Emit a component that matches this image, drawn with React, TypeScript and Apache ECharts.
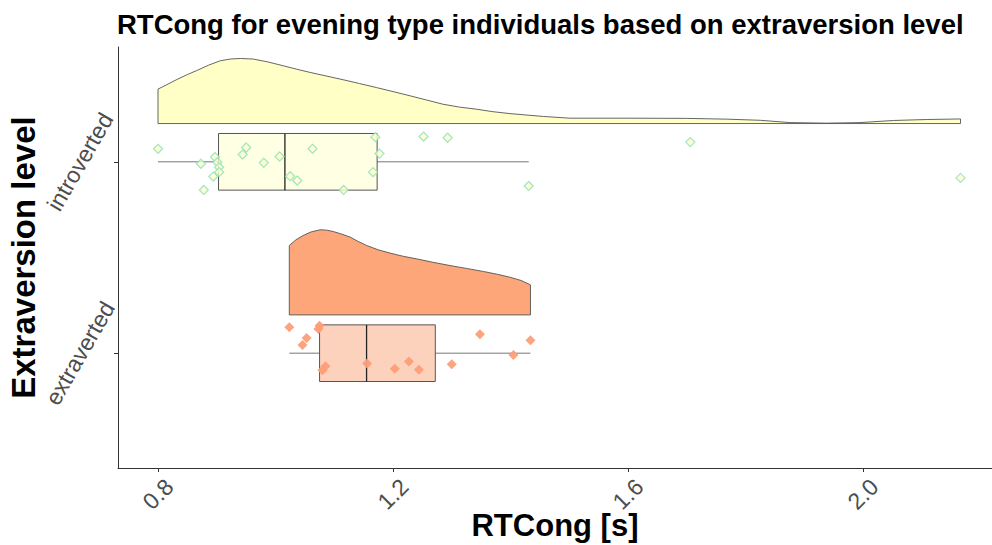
import React, { useEffect, useRef } from "react";
import * as echarts from "echarts";

// ---- data ----
const categories = ["extraverted", "introverted"]; // y positions 1, 2
const groupColors = {
  violin: ["#FCA679", "#FFFFC6"],
  box: ["#FDD2BD", "#FFFFE3"],
};

// half-violin density (x, height in y units)
const extraDensityX = [1.0235, 1.035, 1.047, 1.06, 1.076, 1.087, 1.098, 1.112, 1.127, 1.14, 1.155, 1.175, 1.195, 1.218, 1.24, 1.268, 1.297, 1.325, 1.354, 1.378, 1.399, 1.418, 1.434];
const extraDensityH = [0.363, 0.393, 0.415, 0.433, 0.445, 0.443, 0.436, 0.423, 0.407, 0.385, 0.363, 0.34, 0.323, 0.306, 0.293, 0.275, 0.258, 0.243, 0.227, 0.212, 0.197, 0.18, 0.157];

const introDensityX = [0.8, 0.815, 0.832, 0.85, 0.866, 0.886, 0.906, 0.923, 0.94, 0.962, 0.987, 1.013, 1.036, 1.059, 1.087, 1.115, 1.143, 1.172, 1.2, 1.229, 1.257, 1.285, 1.313, 1.342, 1.37, 1.399, 1.456, 1.501, 1.6, 1.7, 1.768, 1.825, 1.876, 1.938, 1.995, 2.052, 2.108, 2.166];
const introDensityH = [0.18, 0.203, 0.23, 0.256, 0.277, 0.305, 0.328, 0.337, 0.34, 0.337, 0.322, 0.302, 0.284, 0.267, 0.248, 0.229, 0.209, 0.188, 0.167, 0.145, 0.123, 0.101, 0.086, 0.075, 0.062, 0.052, 0.037, 0.028, 0.028, 0.027, 0.023, 0.017, 0.005, 0.002, 0.005, 0.016, 0.021, 0.024];

// boxplot stats: [min, q1, median, q3, max, category]
const boxStats = [
  [1.0235, 1.075, 1.155, 1.272, 1.434, 1],
  [0.8, 0.903, 1.016, 1.173, 1.431, 2],
];

// jittered raw points [x, y]
const extraPoints = [
  [1.0235, 1.135], [1.046, 1.043], [1.053, 1.079], [1.073, 1.126], [1.075, 1.143],
  [1.08, 0.911], [1.085, 0.932], [1.156, 0.946], [1.203, 0.918], [1.227, 0.957],
  [1.244, 0.913], [1.3, 0.942], [1.348, 1.099], [1.405, 0.991], [1.434, 1.068],
];
const introPoints = [
  [0.8, 2.068], [0.873, 1.99], [0.878, 1.853], [0.897, 2.025], [0.901, 1.998],
  [0.904, 1.972], [0.904, 1.946], [0.894, 1.923], [0.944, 2.038], [0.95, 2.075],
  [0.98, 1.995], [1.007, 2.028], [1.025, 1.925], [1.037, 1.902], [1.063, 2.068],
  [1.116, 1.853], [1.166, 1.946], [1.17, 2.129], [1.177, 2.043], [1.252, 2.132],
  [1.293, 2.126], [1.431, 1.874], [1.706, 2.103], [2.166, 1.916],
];

const xTicks = [0.8, 1.2, 1.6, 2.0];
const xTickLabels = ["0.8", "1.2", "1.6", "2.0"];
const violinOffset = 0.2;
const boxHalf = 0.148;

export default function App() {
  const ref = useRef<HTMLDivElement>(null);
  useEffect(() => {
    if (!ref.current) return;
    const chart = echarts.init(ref.current, undefined, { renderer: "svg" });
    const densities = [
      { xs: extraDensityX, hs: extraDensityH, cat: 1 },
      { xs: introDensityX, hs: introDensityH, cat: 2 },
    ];
    const option = {
      animation: false,
      textStyle: { fontFamily: "Liberation Sans" },
      title: {
        text: "RTCong for evening type individuals based on extraversion level",
        left: 112,
        top: 5,
        textStyle: { fontSize: 27.5, fontWeight: "bold", color: "#000", fontFamily: "Liberation Sans" },
      },
      grid: { left: 118, right: 0, top: 47, bottom: 77, outerBoundsMode: "none", containLabel: false },
      xAxis: {
        type: "value",
        min: 0.7319,
        max: 2.2196,
        name: "RTCong [s]",
        nameLocation: "middle",
        nameGap: 42,
        nameMoveOverlap: false,
        nameTextStyle: { fontSize: 31, fontWeight: "bold", color: "#000" },
        axisLine: { show: true, lineStyle: { color: "#333", width: 1 } },
        axisTick: { show: true, customValues: xTicks, length: 4, lineStyle: { color: "#333" } },
        axisLabel: {
          customValues: xTicks,
          formatter: (v: number) => xTickLabels[xTicks.findIndex((t) => Math.abs(t - v) < 1e-6)] ?? "",
          rotate: 45,
          align: "center",
          verticalAlign: "middle",
          margin: 26,
          fontSize: 23,
          color: "#4d4d4d",
        },
        splitLine: { show: false },
      },
      yAxis: {
        type: "value",
        min: 0.4,
        max: 2.6,
        name: "Extraversion level",
        nameLocation: "middle",
        nameGap: 78,
        nameMoveOverlap: false,
        nameTextStyle: { fontSize: 33, fontWeight: "bold", color: "#000" },
        axisLine: { show: true, lineStyle: { color: "#333", width: 1 } },
        axisTick: { show: true, customValues: [1, 2], length: 4, lineStyle: { color: "#333" } },
        axisLabel: {
          customValues: [1, 2],
          formatter: (v: number) => categories[Math.round(v) - 1] ?? "",
          rotate: 60,
          align: "center",
          verticalAlign: "middle",
          margin: 38,
          fontSize: 23,
          color: "#4d4d4d",
        },
        splitLine: { show: false },
      },
      series: [
        {
          type: "custom",
          name: "violin",
          data: [[0], [1]],
          renderItem: (params: any, api: any) => {
            const d = densities[params.dataIndex];
            const base = d.cat + violinOffset;
            const pts: number[][] = [];
            pts.push(api.coord([d.xs[0], base]));
            for (let i = 0; i < d.xs.length; i++) pts.push(api.coord([d.xs[i], base + d.hs[i]]));
            pts.push(api.coord([d.xs[d.xs.length - 1], base]));
            return {
              type: "polygon",
              shape: { points: pts },
              style: { fill: groupColors.violin[params.dataIndex], stroke: "#555", lineWidth: 0.9 },
            };
          },
          z: 1,
        },
        {
          type: "custom",
          name: "box",
          data: boxStats,
          encode: { x: [0, 1, 2, 3, 4], y: 5 },
          renderItem: (params: any, api: any) => {
            const mn = api.value(0), q1 = api.value(1), md = api.value(2), q3 = api.value(3), mx = api.value(4), c = api.value(5);
            const w0 = api.coord([mn, c]);
            const w1 = api.coord([mx, c]);
            const lo = api.coord([q1, c - boxHalf]);
            const hi = api.coord([q3, c + boxHalf]);
            const m0 = api.coord([md, c - boxHalf]);
            const m1 = api.coord([md, c + boxHalf]);
            return {
              type: "group",
              children: [
                { type: "line", shape: { x1: w0[0], y1: w0[1], x2: w1[0], y2: w1[1] }, style: { stroke: "#777", lineWidth: 1 } },
                {
                  type: "rect",
                  shape: { x: lo[0], y: hi[1], width: hi[0] - lo[0], height: lo[1] - hi[1] },
                  style: { fill: groupColors.box[params.dataIndex], stroke: "#555", lineWidth: 1 },
                },
                { type: "line", shape: { x1: m0[0], y1: m0[1], x2: m1[0], y2: m1[1] }, style: { stroke: "#222", lineWidth: 1.3 } },
              ],
            };
          },
          z: 2,
        },
        {
          type: "scatter",
          name: "extraverted",
          data: extraPoints,
          symbol: "diamond",
          symbolSize: 10,
          itemStyle: { color: "#FC9E78", opacity: 0.95 },
          z: 3,
        },
        {
          type: "scatter",
          name: "introverted",
          data: introPoints,
          symbol: "diamond",
          symbolSize: 9,
          itemStyle: { color: "#FFFFC8", borderColor: "#8FE0BF", borderWidth: 1.3 },
          z: 3,
        },
      ],
    };
    chart.setOption(option as any);
    return () => chart.dispose();
  }, []);
  return <div ref={ref} style={{ width: 992, height: 545, position: "absolute", left: 0, top: 0 }} />;
}
